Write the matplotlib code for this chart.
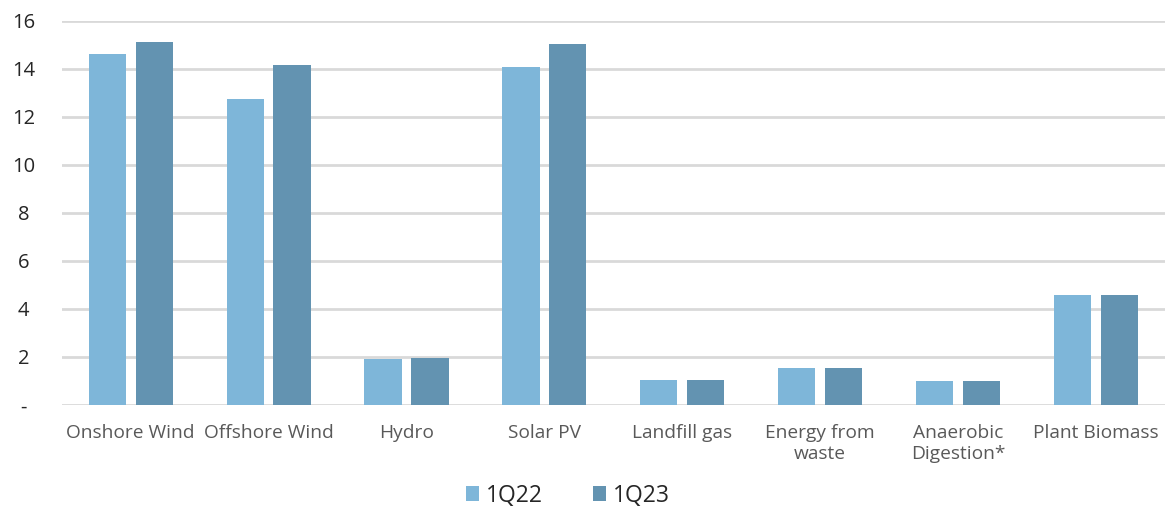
import matplotlib.pyplot as plt
import numpy as np

categorias = ['Onshore Wind', 'Offshore Wind', 'Hydro', 'Solar PV', 'Landfill gas',
              'Energy from\nwaste', 'Anaerobic\nDigestion*', 'Plant Biomass']
q22 = [14.63, 12.74, 1.90, 14.08, 1.05, 1.53, 1.01, 4.57]
q23 = [15.14, 14.17, 1.94, 15.03, 1.05, 1.53, 1.01, 4.57]
yticks = [0, 2, 4, 6, 8, 10, 12, 14, 16]
ylabels = ['-', '2', '4', '6', '8', '10', '12', '14', '16']

plt.rcParams['font.family'] = ['Open Sans', 'DejaVu Sans']

fig = plt.figure(figsize=(11.65, 5.07), dpi=100)
ax = fig.add_axes([0.053, 0.2012, 0.947, 0.7574])

x = np.arange(len(categorias))
larg = 0.27
ax.bar(x - 0.17, q22, larg, color='#7EB6D9', label='1Q22', zorder=3)
ax.bar(x + 0.17, q23, larg, color='#6393B1', label='1Q23', zorder=3)

ax.set_xlim(-0.5, len(categorias) - 0.5)
ax.set_ylim(0, 16)
ax.set_yticks(yticks)
ax.set_yticklabels(ylabels, fontsize=14.5, color='#262626')
ax.set_xticks(x)
ax.set_xticklabels(categorias, fontsize=13.8, color='#595959', linespacing=1.15)
ax.tick_params(axis='both', length=0)
ax.tick_params(axis='x', pad=14)
ax.tick_params(axis='y', pad=27.7)
for lab in ax.get_yticklabels():
    lab.set_horizontalalignment('center')

ax.grid(axis='y', color='#d9d9d9', linewidth=2, zorder=0)
for s in ax.spines.values():
    s.set_visible(False)

fig.legend(loc='center', bbox_to_anchor=(0.4875, 0.022), ncol=2, frameon=False,
           fontsize=16.5, handlelength=0.6, handleheight=0.6, handletextpad=0.3,
           columnspacing=2.15, labelcolor='#262626')

plt.savefig('out.png')
plt.close()
